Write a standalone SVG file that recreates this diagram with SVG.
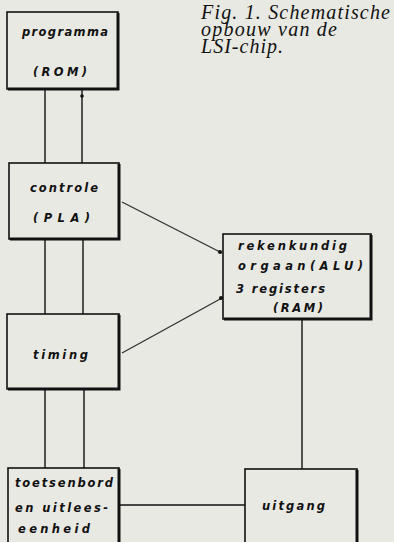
<svg xmlns="http://www.w3.org/2000/svg" width="394" height="542" viewBox="0 0 394 542">
<style>
.box{fill:#e9e9e4;stroke:#111;stroke-width:1.6}
.sh{stroke:#111;stroke-width:3;fill:none}
.ln{stroke:#111;stroke-width:1.4;fill:none}
.dg{stroke:#333;stroke-width:1.4;fill:none}
.t{font-family:"DejaVu Sans",sans-serif;font-style:oblique;font-weight:bold;font-size:11.5px;fill:#111}
.cap{font-family:"Liberation Serif",serif;font-style:italic;font-size:20px;fill:#111}
</style>
<rect width="394" height="542" fill="#e9e9e4"/>
<g id="connectors">
<line class="ln" x1="45" y1="89" x2="45" y2="163"/>
<line class="ln" x1="82" y1="89" x2="82" y2="163"/>
<circle cx="82" cy="96" r="1.8" fill="#111"/>
<line class="ln" x1="45" y1="239" x2="45" y2="314"/>
<line class="ln" x1="83" y1="239" x2="83" y2="314"/>
<line class="ln" x1="45" y1="389" x2="45" y2="468"/>
<line class="ln" x1="84" y1="389" x2="84" y2="468"/>
<line class="dg" x1="122" y1="202" x2="222" y2="253"/>
<circle cx="220" cy="252" r="2" fill="#111"/>
<line class="dg" x1="122" y1="353" x2="222" y2="298"/>
<circle cx="221" cy="298" r="2" fill="#111"/>
<line class="ln" x1="302" y1="319" x2="302" y2="469"/>
<line class="ln" x1="120" y1="505" x2="245" y2="505"/>
</g>
<g id="programma">
<rect class="box" x="7" y="12" width="111" height="77"/>
<polyline class="sh" points="118,13 118,89 8,89"/>
<text class="t" x="22" y="36" textLength="86" lengthAdjust="spacing">programma</text>
<text class="t" x="33" y="76" textLength="54" lengthAdjust="spacing">(ROM)</text>
</g>
<g id="controle">
<rect class="box" x="9" y="163" width="110" height="76"/>
<polyline class="sh" points="119,164 119,239 10,239"/>
<text class="t" x="30" y="192" textLength="68" lengthAdjust="spacing">controle</text>
<text class="t" x="33" y="222" textLength="57" lengthAdjust="spacing">(PLA)</text>
</g>
<g id="alu">
<rect class="box" x="223" y="234" width="148" height="85"/>
<polyline class="sh" points="371,235 371,319 224,319"/>
<text class="t" x="238" y="250" textLength="109" lengthAdjust="spacing">rekenkundig</text>
<text class="t" x="238" y="270" textLength="125" lengthAdjust="spacing">orgaan(ALU)</text>
<text class="t" x="236" y="293" textLength="89" lengthAdjust="spacing">3 registers</text>
<text class="t" x="273" y="312" textLength="50" lengthAdjust="spacing">(RAM)</text>
</g>
<g id="timing">
<rect class="box" x="7" y="314" width="112" height="75"/>
<polyline class="sh" points="119,315 119,389 8,389"/>
<text class="t" x="33" y="359" textLength="55" lengthAdjust="spacing">timing</text>
</g>
<g id="toetsenbord">
<rect class="box" x="8" y="468" width="111" height="80"/>
<polyline class="sh" points="119,469 119,545"/>
<text class="t" x="15" y="487" textLength="98" lengthAdjust="spacing">toetsenbord</text>
<text class="t" x="15" y="512" textLength="93" lengthAdjust="spacing">en uitlees-</text>
<text class="t" x="18" y="533" textLength="72" lengthAdjust="spacing">eenheid</text>
</g>
<g id="uitgang">
<rect class="box" x="245" y="469" width="112" height="80"/>
<polyline class="sh" points="357,470 357,545"/>
<text class="t" x="262" y="510" textLength="63" lengthAdjust="spacing">uitgang</text>
</g>
<g id="caption">
<text class="cap" x="201" y="19" textLength="189" lengthAdjust="spacing">Fig. 1. Schematische</text>
<text class="cap" x="201" y="36" textLength="136" lengthAdjust="spacing">opbouw van de</text>
<text class="cap" x="201" y="53" textLength="82" lengthAdjust="spacing">LSI-chip.</text>
</g>
</svg>
